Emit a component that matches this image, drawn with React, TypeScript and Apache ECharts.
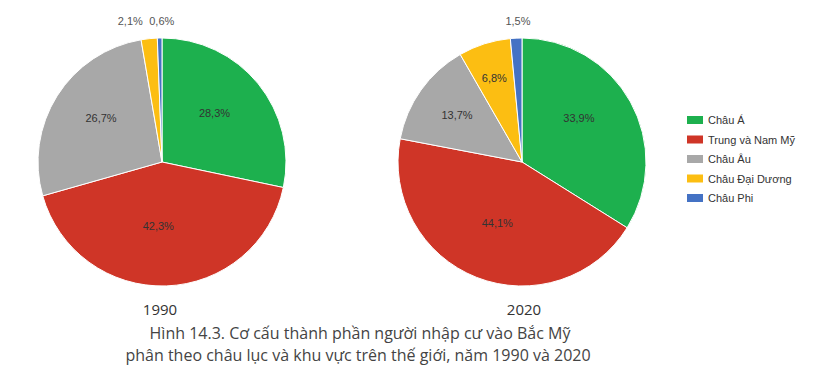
import React, { useEffect, useRef } from "react";
import * as echarts from "echarts";

const categories = ["Châu Á", "Trung và Nam Mỹ", "Châu Âu", "Châu Đại Dương", "Châu Phi"];
const values1990 = [28.3, 42.3, 26.7, 2.1, 0.6];
const values2020 = [33.9, 44.1, 13.7, 6.8, 1.5];
const years = ["1990", "2020"];
const colors = ["#1DB04E", "#CF3527", "#A8A8A8", "#FCBE12", "#4472C4"];
const caption1 = "Hình 14.3. Cơ cấu thành phần người nhập cư vào Bắc Mỹ";
const caption2 = "phân theo châu lục và khu vực trên thế giới, năm 1990 và 2020";

// label nudges (style only) relative to ECharts' inside label position
const offsets1990 = [[2, -8], [-6, -1], [-6, -9], [-25, -76], [1, -76]];
const offsets2020 = [[0, -13], [-1, 0], [-12, -9], [-8, -22], [-1, -76]];

const fmt = (v: number) => v.toFixed(1).replace(".", ",") + "%";

export default function App() {
  const ref = useRef<HTMLDivElement>(null);
  useEffect(() => {
    document.body.style.margin = "0";
    const chart = echarts.init(ref.current!, null, { renderer: "svg" });
    const mk = (vals: number[], offs: number[][], cx: number) => ({
      type: "pie",
      center: [cx, 162],
      radius: 124,
      startAngle: 90,
      clockwise: true,
      avoidLabelOverlap: false,
      silent: true,
      itemStyle: { borderColor: "#fff", borderWidth: 1 },
      labelLine: { show: false },
      data: vals.map((v, i) => ({
        name: categories[i],
        value: v,
        label: {
          show: true,
          position: "inside",
          offset: offs[i],
          formatter: () => fmt(v),
          color: i >= 3 && offs[i][1] < -50 ? "#555" : "#333",
          fontSize: 11,
          fontFamily: "Liberation Sans, Arial, sans-serif",
        },
      })),
    });
    const capStyle = { fontSize: 16, fontWeight: "normal", color: "#444", fontFamily: "Open Sans, sans-serif" };
    const yearStyle = { fontSize: 15, fontWeight: "normal", color: "#333", fontFamily: "Open Sans, sans-serif" };
    chart.setOption({
      animation: false,
      color: colors,
      backgroundColor: "#fff",
      legend: {
        orient: "vertical",
        left: 680,
        top: 109,
        itemWidth: 18,
        itemHeight: 10,
        itemGap: 7.5,
        icon: "rect",
        selectedMode: false,
        data: categories,
        textStyle: { fontSize: 11, color: "#333", fontFamily: "Liberation Sans, Arial, sans-serif", padding: [0, 0, 0, -1] },
      },
      title: [
        { text: years[0], left: 155, top: 296, textAlign: "center", textStyle: yearStyle },
        { text: years[1], left: 519, top: 296, textAlign: "center", textStyle: yearStyle },
        { text: caption1, left: 355, top: 320, textAlign: "center", textStyle: capStyle },
        { text: caption2, left: 353, top: 342, textAlign: "center", textStyle: capStyle },
      ],
      series: [mk(values1990, offsets1990, 162), mk(values2020, offsets2020, 522)],
    });
    return () => chart.dispose();
  }, []);
  return <div ref={ref} style={{ width: 835, height: 381 }} />;
}
